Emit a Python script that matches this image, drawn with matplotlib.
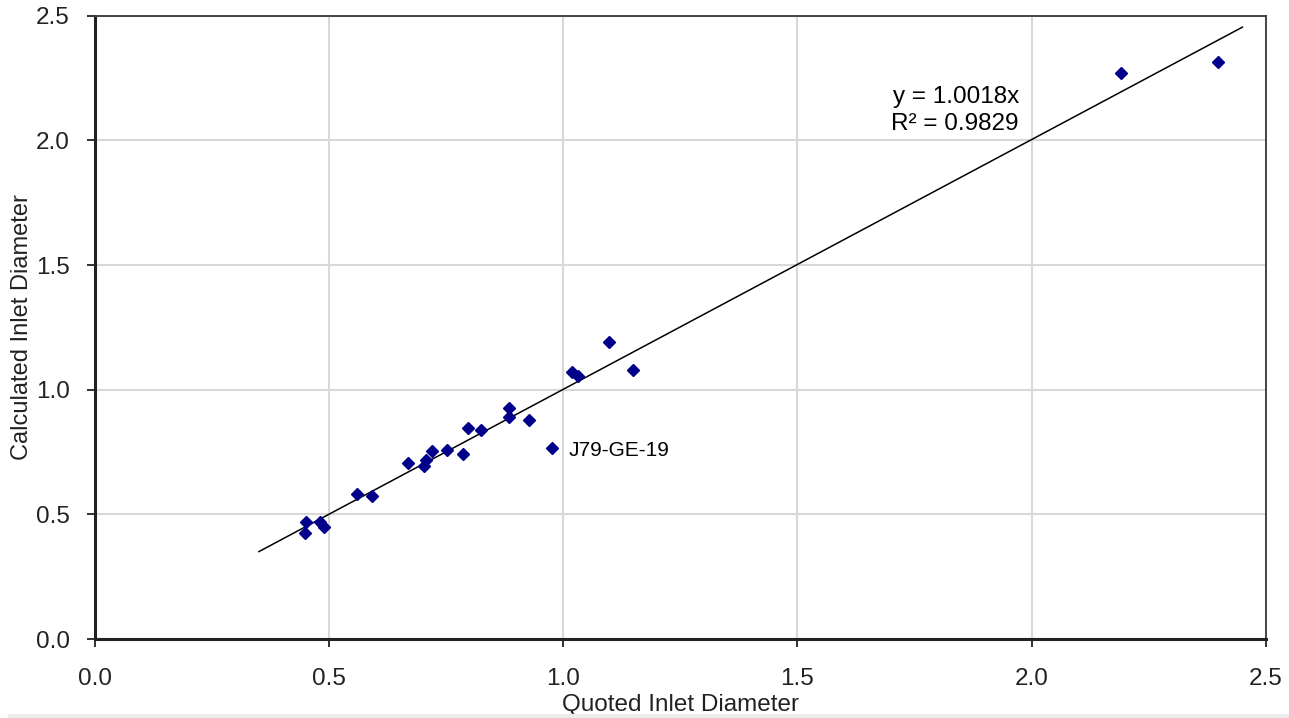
import numpy as np
import matplotlib.pyplot as plt
from matplotlib.patches import Rectangle

plt.rcParams['font.family'] = ['Liberation Sans', 'DejaVu Sans']

# quoted vs calculated inlet diameter
quoted = [0.448, 0.450, 0.480, 0.489, 0.559, 0.591, 0.669, 0.702, 0.707,
          0.719, 0.752, 0.786, 0.796, 0.824, 0.884, 0.885, 0.927, 0.976,
          1.018, 1.032, 1.097, 1.149, 2.190, 2.398]
calc = [0.424, 0.468, 0.468, 0.448, 0.581, 0.575, 0.705, 0.696, 0.718,
        0.754, 0.758, 0.741, 0.848, 0.839, 0.928, 0.892, 0.879, 0.768,
        1.070, 1.055, 1.191, 1.079, 2.271, 2.315]
slope = 1.0018
r2 = 0.9829
fit_x = [0.35, 2.45]
outlier = (0.976, 0.768, 'J79-GE-19')

fig = plt.figure(figsize=(12.89, 7.18), dpi=100)
ax = fig.add_axes([0.0737, 0.110, 0.9083, 0.868])

fx = np.array(fit_x)
ax.plot(fx, slope*fx, color='black', lw=1.1, zorder=2)
ax.plot(quoted, calc, 'D', color='#00008B', ms=6.3, mec='#00008B', zorder=3)

ax.text(outlier[0]+0.035, outlier[1]-0.01, outlier[2], fontsize=15,
        va='center', ha='left')
ax.text(1.973, 2.12, 'y = %.4fx\nR² = %.4f' % (slope, r2), fontsize=17.5,
        ha='right', va='center', linespacing=1.25)

ax.set_xlim(0, 2.5)
ax.set_ylim(0, 2.5)
ax.set_xticks(np.arange(0, 2.51, 0.5))
ax.set_yticks(np.arange(0, 2.51, 0.5))
ax.xaxis.set_major_formatter(plt.FormatStrFormatter('%.1f'))
ax.yaxis.set_major_formatter(plt.FormatStrFormatter('%.1f'))
ax.tick_params(labelsize=17.5, direction='out', length=6, width=1.3,
               colors='#222222', labelcolor='#222222')
ax.tick_params(axis='x', pad=15)
ax.tick_params(axis='y', pad=12)
ax.grid(True, color='#d8d8d8', lw=1.5, zorder=0)
ax.set_axisbelow(True)

for s in ['left', 'bottom']:
    ax.spines[s].set_linewidth(2.2)
    ax.spines[s].set_color('#222222')
for s in ['top', 'right']:
    ax.spines[s].set_linewidth(1.4)
    ax.spines[s].set_color('#444444')

ax.set_xlabel('Quoted Inlet Diameter', fontsize=17.5, labelpad=3,
              color='#222222')
ax.set_ylabel('Calculated Inlet Diameter', fontsize=17, labelpad=2,
              color='#222222')

# light strip along the bottom edge
fig.patches.append(Rectangle((0.006, 0), 0.994, 0.005, transform=fig.transFigure,
                             color='#ececec', zorder=10))

fig.savefig('out.png', dpi=100)
